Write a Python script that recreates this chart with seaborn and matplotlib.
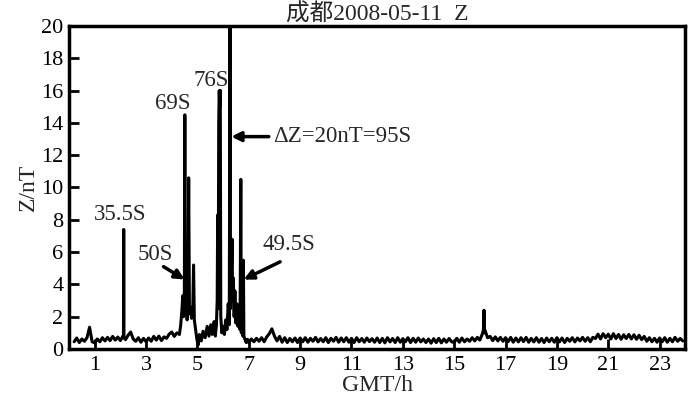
import numpy as np
import pandas as pd
import matplotlib
matplotlib.use("Agg")
import matplotlib.pyplot as plt
import seaborn as sns

# quiet baseline, one row per hour, sampled every 0.1 h starting at 0.2 h
quiet_z = [
    0.45, 0.68, 0.40, 0.62, 0.48, 0.70, 1.35, 0.45,
    0.38, 0.62, 0.45, 0.70, 0.50, 0.72, 0.52, 0.78, 0.55, 0.74,
    0.52, 0.80, 0.58, 0.85, 1.05, 0.62, 0.48, 0.70, 0.42, 0.66,
    0.45, 0.68, 0.48, 0.78, 0.55, 0.80, 0.52, 0.75, 0.66, 0.92,
    1.05, 0.78, 1.00, 0.90, 0.90, 0.90, 0.90, 0.90, 0.90, 0.90,
    0.60, 0.60, 0.60, 0.60, 0.60, 0.60, 0.60, 0.60, 0.60, 0.60,
    0.60, 0.60, 0.60, 0.60, 0.60, 0.60, 0.60, 0.60, 0.60, 0.60,
    0.40, 0.62, 0.45, 0.66, 0.48, 0.70, 0.45, 0.75, 0.95, 1.25,
    0.80, 0.50, 0.78, 0.42, 0.70, 0.40, 0.65, 0.45, 0.68, 0.40,
    0.68, 0.45, 0.70, 0.42, 0.66, 0.48, 0.72, 0.44, 0.65, 0.45,
    0.70, 0.40, 0.66, 0.48, 0.72, 0.42, 0.68, 0.45, 0.70, 0.42,
    0.66, 0.40, 0.70, 0.45, 0.65, 0.42, 0.68, 0.46, 0.64, 0.42,
    0.68, 0.40, 0.66, 0.38, 0.70, 0.44, 0.65, 0.40, 0.70, 0.42,
    0.64, 0.45, 0.70, 0.40, 0.66, 0.42, 0.68, 0.44, 0.62, 0.40,
    0.62, 0.36, 0.64, 0.40, 0.66, 0.38, 0.62, 0.42, 0.65, 0.45,
    0.40, 0.66, 0.42, 0.68, 0.45, 0.62, 0.48, 0.70, 0.50, 0.72,
    0.55, 0.95, 1.15, 0.70, 0.78, 0.52, 0.75, 0.50, 0.72, 0.48,
    0.70, 0.45, 0.72, 0.42, 0.68, 0.44, 0.70, 0.46, 0.72, 0.42,
    0.66, 0.44, 0.70, 0.42, 0.65, 0.40, 0.68, 0.45, 0.66, 0.42,
    0.70, 0.44, 0.68, 0.40, 0.66, 0.48, 0.70, 0.44, 0.68, 0.50,
    0.72, 0.48, 0.70, 0.45, 0.72, 0.65, 0.92, 0.62, 0.95, 0.70,
    0.92, 0.62, 0.95, 0.65, 0.90, 0.60, 0.88, 0.65, 0.90, 0.62,
    0.88, 0.60, 0.85, 0.58, 0.78, 0.48, 0.70, 0.45, 0.66, 0.42,
    0.68, 0.45, 0.70, 0.42, 0.66, 0.45, 0.72, 0.48, 0.65, 0.50,
]
quiet_t = [round(0.2 + 0.1 * i, 2) for i in range(len(quiet_z))]

# disturbed interval 4.3 - 6.95 h
storm_t = [4.30, 4.35, 4.40, 4.43, 4.46, 4.49, 4.51, 4.53, 4.56, 4.60,
           4.63, 4.66, 4.69, 4.73, 4.77, 4.82, 4.85, 4.88, 4.93, 4.98,
           5.03, 5.08, 5.15, 5.22, 5.30, 5.38, 5.45, 5.52, 5.58, 5.65,
           5.70, 5.74, 5.77, 5.79, 5.81, 5.83, 5.85, 5.87, 5.89, 5.91,
           5.95, 6.00, 6.05, 6.10, 6.15, 6.20, 6.24, 6.27, 6.29, 6.32,
           6.35, 6.37, 6.40, 6.43, 6.46, 6.50, 6.54, 6.58, 6.62, 6.66,
           6.69, 6.71, 6.74, 6.77, 6.79, 6.81, 6.85, 6.90, 6.95]
storm_z = [0.90, 1.50, 2.50, 3.30, 2.00, 2.80, 14.5, 2.50, 3.30, 1.80,
           3.00, 10.6, 2.20, 2.60, 1.90, 2.50, 5.20, 1.80, 1.20, 0.60,
           0.25, 0.90, 0.50, 1.10, 0.70, 1.40, 0.80, 1.50, 0.90, 1.70,
           0.80, 1.50, 3.00, 8.30, 2.50, 14.0, 16.0, 15.0, 16.0, 2.00,
           1.00, 1.40, 0.90, 1.80, 1.20, 2.80, 1.50, 20.0, 2.50, 4.50,
           6.80, 3.00, 4.40, 2.00, 3.60, 1.60, 2.80, 1.40, 2.20, 1.20,
           10.5, 1.00, 1.90, 0.80, 5.50, 0.80, 0.60, 0.40, 0.60]

# isolated spikes
spike_t = [2.12, 2.13, 2.14, 16.14, 16.16, 16.18]
spike_z = [0.70, 7.40, 0.70, 1.20, 2.40, 1.00]

x_ticks = [1, 3, 5, 7, 9, 11, 13, 15, 17, 19, 21, 23]
y_ticks = [0, 2, 4, 6, 8, 10, 12, 14, 16, 18, 20]

# labels: text, x, y
label_text = ["35.5S", "50S", "69S", "76S", "ΔZ=20nT=95S", "49.5S"]
label_x = [2.0, 3.36, 4.05, 5.52, 7.95, 8.58]
label_y = [8.3, 5.85, 15.2, 16.6, 13.15, 6.45]
label_ha = ["center", "center", "center", "center", "left", "center"]

# arrows: tail -> head
arrow_from = [(3.68, 5.1), (7.78, 13.15), (8.22, 5.4)]
arrow_to = [(4.50, 4.3), (6.32, 13.15), (6.80, 4.3)]

quiet = pd.DataFrame({"t": quiet_t, "z": quiet_z})
quiet = quiet[(quiet["t"] < 4.3) | (quiet["t"] > 6.95)]
df = pd.concat([quiet,
                pd.DataFrame({"t": storm_t, "z": storm_z}),
                pd.DataFrame({"t": spike_t, "z": spike_z})])
df = df.sort_values("t").reset_index(drop=True)

sns.set_style("ticks")
plt.rcParams["font.family"] = ["Liberation Serif", "Noto Sans CJK SC"]

fig, ax = plt.subplots(figsize=(7, 4), dpi=100)
fig.subplots_adjust(left=0.0986, right=0.979, bottom=0.1275, top=0.935)

sns.lineplot(data=df, x="t", y="z", ax=ax, color="black", linewidth=2.2,
             estimator=None, sort=False)

ax.set_xlim(0, 24)
ax.set_ylim(0, 20)
ax.set_xticks(x_ticks)
ax.set_yticks(y_ticks)
ax.tick_params(direction="in", length=7, width=2, labelsize=16, colors="black")
ax.tick_params(axis="x", pad=5)
ax.tick_params(axis="y", pad=4)
for s in ax.spines.values():
    s.set_linewidth(2.5)
    s.set_color("black")

ax.set_xlabel("GMT/h", fontsize=17, labelpad=0)
ax.set_ylabel("Z/nT", fontsize=17, labelpad=2)
ax.set_title("成都2008-05-11  Z", fontsize=17, pad=2)

for txt, x, y, ha in zip(label_text, label_x, label_y, label_ha):
    ax.text(x, y, txt, fontsize=16.5, ha=ha, va="center")

for a, b in zip(arrow_from, arrow_to):
    ax.annotate("", xy=b, xytext=a,
                arrowprops=dict(arrowstyle="-|>", color="black", lw=2.5,
                                mutation_scale=14, shrinkA=0, shrinkB=0))

plt.savefig("out.png", dpi=100)
